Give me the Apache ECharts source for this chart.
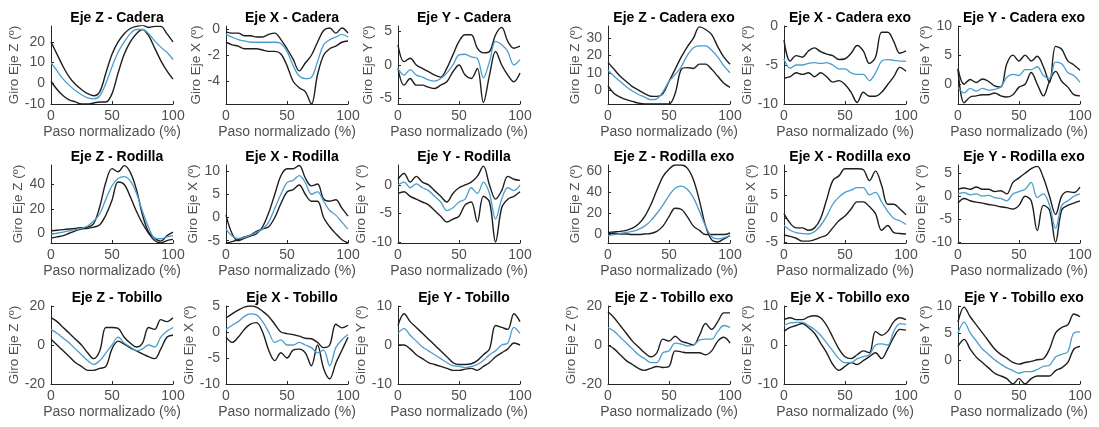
<!DOCTYPE html>
<html><head><meta charset="utf-8">
<script src="https://cdn.jsdelivr.net/npm/echarts@6/dist/echarts.min.js"></script>
<style>html,body{margin:0;padding:0;background:#fff}#c{width:1099px;height:427px}</style>
</head><body><div id="c"></div>
<script>
// x axis: Paso normalizado (%)
const X = [0,5,10,15,20,25,30,35,40,45,50,55,60,65,70,75,80,85,90,95,100];
const xTicks = [0,50,100];

// Row 1
const zCadera_sup = [20,14,8,3,-0.5,-3,-5,-6,-4,5,14,20,24,26.5,27.5,28,27,27.5,27.5,24,20];
const zCadera_med = [10,6,2,-1,-3.5,-5.5,-7,-7.5,-6,0,8,15,20,24,26,26,24,20.5,17.5,15,11.5];
const zCadera_inf = [1,-3,-6,-8,-9,-10,-10,-9.5,-9,-9,-5,5,14,20,24,26,23,17,11,6,2];
const xCadera_sup = [-0.2,-0.3,-0.3,-0.5,-0.5,-0.6,-0.6,-0.4,-0.3,-0.8,-1.5,-2.3,-3.2,-2.6,-2.0,-1.0,-0.1,0.1,-0.3,0.1,-0.3];
const xCadera_med = [-0.4,-0.6,-0.8,-0.9,-1.0,-1.0,-1.0,-1.0,-1.0,-1.1,-1.7,-2.8,-3.6,-3.8,-3.7,-2.5,-1.2,-0.8,-0.6,-0.4,-0.6];
const xCadera_inf = [-1.0,-1.2,-1.3,-1.5,-1.5,-1.5,-1.6,-1.7,-1.7,-1.9,-2.8,-4.0,-4.5,-4.8,-5.75,-3.5,-2.0,-1.5,-1.3,-1.0,-0.9];
const yCadera_sup = [3.0,0.5,1.0,0.0,-0.5,-1.0,-1.5,-1.8,-0.5,1.5,3.5,4.5,4.5,2.5,1.8,2.0,4.5,5.6,3.5,2.5,2.8];
const yCadera_med = [-0.5,-1.5,-0.7,-1.5,-1.8,-2.2,-2.4,-2.0,-1.2,0.0,1.5,1.6,1.2,1.0,-1.9,0.5,3.5,3.0,2.0,0.0,0.8];
const yCadera_inf = [-0.5,-3.0,-2.0,-3.0,-3.0,-3.3,-3.5,-3.0,-2.5,-1.0,0.0,-1.5,-2.0,-0.5,-5.6,-1.5,2.0,0.0,-1.5,-2.5,-1.2];
const zCaderaExo_sup = [16,12,8,5,2,0,-2,-3.5,-3.6,-2,5,12,19,25,30,36.5,35,32,25,19,15];
const zCaderaExo_med = [11.5,8,5,2,-0.5,-2.5,-4,-5.5,-5,-1,5,9,13.5,20,24.5,25.5,25.5,23,19,14,10];
const zCaderaExo_inf = [2.4,-2,-4,-5.5,-6.5,-7.5,-8,-8,-8,-8,-8,-2,12,13,12.5,15,15,12,8,4,1.6];
const xCaderaExo_sup = [-1.8,-4.5,-3.8,-4.0,-3.2,-2.8,-3.3,-3.6,-3.8,-4.3,-4.2,-3.5,-2.5,-3.2,-4.8,-4.0,-0.8,-0.8,-2.0,-3.5,-3.2];
const xCaderaExo_med = [-4.2,-5.4,-5.0,-5.0,-4.8,-4.7,-4.8,-4.7,-5.0,-5.5,-5.5,-6.0,-6.2,-6.2,-7.0,-6.0,-4.5,-4.3,-4.4,-4.5,-4.5];
const xCaderaExo_inf = [-6.7,-6.5,-6.0,-6.2,-6.0,-6.5,-6.0,-6.5,-7.2,-7.0,-7.5,-8.5,-9.8,-8.5,-9.0,-9.0,-8.5,-7.5,-6.5,-5.3,-5.8];
const yCaderaExo_sup = [2.7,0.0,0.8,0.3,0.9,0.5,-0.3,-0.5,3.5,5.0,4.0,5.0,4.0,4.8,3.0,0.3,6.5,6.0,4.0,3.3,2.4];
const yCaderaExo_med = [-0.5,-1.5,-0.7,-1.2,-0.7,-1.0,-0.9,-0.5,1.2,1.7,1.5,2.5,2.5,3.0,1.5,1.0,3.8,3.5,2.0,1.5,0.3];
const yCaderaExo_inf = [2.5,-3.2,-2.2,-2.0,-1.8,-1.8,-1.5,-2.0,-2.2,-1.8,-0.5,0.0,2.0,0.0,-2.0,0.5,2.2,0.5,-0.5,-1.8,-2.0];

// Row 2
const zRodilla_sup = [2,2.5,3,3.5,4,4.5,5,8,22,42,53,50.5,55.5,50,36,15,1,-4,-6.5,-2,1];
const zRodilla_med = [-1,0,1,2,3,4,6,10,16,28,39,45,46.5,43,33,18,5,-4,-4.5,-3,-2];
const zRodilla_inf = [-4,-3,-2,0,2,3.5,4,5,7,15,27,42,40,30,18,8,0,-6,-8,-6,-5];
const xRodilla_sup = [0.5,-3.5,-5.0,-4.5,-4.0,-3.5,-2,1,5,9,10.5,10.5,11.2,8.5,6.8,7.2,4.0,3.5,3.8,2,0.3];
const xRodilla_med = [-2.5,-4,-4.5,-4.3,-3.8,-3.2,-2.5,-1,2,5,7.5,8,9,7.5,5,5.5,3.5,1.5,0.5,-1,-2.5];
const xRodilla_inf = [-5.5,-5.2,-4.8,-4.2,-3.8,-3.0,-2.5,-2.0,0,3,5.5,6,7,5,3.5,3.5,0,-2,-3.5,-4.8,-5.5];
const yRodilla_sup = [1,2,0.5,1.5,0.5,0,-1,-2,-3,-1.5,-0.5,0,0.5,1.5,3.3,0,-2.5,-1,1.5,1,0.8];
const yRodilla_med = [0,0.5,-0.5,0.2,-0.5,-1,-2,-3,-4.5,-4,-3,-2.5,-0.5,-1.5,0.5,-1.5,-6,-2.5,-0.5,-1,0];
const yRodilla_inf = [-1.5,-1.2,-2,-2.5,-3,-3.5,-4.5,-5.5,-6.5,-6,-5.5,-3.5,-3,-6.5,-2,-3,-10,-4,-2.5,-2,-1.2];
const zRodillaExo_sup = [2,2.5,3,4,6,10,17,28,42,55,62,66,66,63,52,32,8,-5,-7,-4,-1];
const zRodillaExo_med = [-1,0,1,2,3,5,8,13,20,28,37,44,46,43,35,22,8,-2,-4,-3,-1];
const zRodillaExo_inf = [1,1,0.5,0.5,0,0,0.5,1,3,8,17,25,24,17,8,4,0,0,0,0,1.5];
const xRodillaExo_sup = [1,-1,-2,-2,-2.5,-2,0,4,8,9,10.5,10.5,10.5,10.3,8,10,7,3,3,2,0.8];
const xRodillaExo_med = [-1.5,-2.5,-3,-3.2,-3.3,-2.8,-1.5,0.5,3,4.5,5.5,6,6.5,6.5,5,5.5,3.5,1.5,0,-0.5,-1.3];
const xRodillaExo_inf = [-3.5,-3.8,-4.2,-4.8,-4.8,-4.5,-4,-3.5,-2,-0.5,0.5,2,3.5,3.5,2.5,1,-2.5,-1.5,-3,-3.2,-3.3];
const yRodillaExo_sup = [1.5,1.8,1.5,2,1.5,1.5,1,1.2,0.5,3,4,5,6,6.5,4,0,-4,0,1,0.8,2];
const yRodillaExo_med = [0.5,0.8,0.3,0.5,0,0.2,-0.3,-0.5,-1,0.5,1,1.5,3,-0.3,0.5,-2,-7,-2,-1,0,0.5];
const yRodillaExo_inf = [-1.5,-0.5,-1,-1.3,-1.5,-1.8,-2,-2.3,-2.5,-2.8,-2,0,-1,-7.5,-2,-3,-10,-3,-2,-1.5,-1];

// Row 3
const zTobillo_sup = [14,12,9,6,3,0,-4,-7,-3,9,9,8.5,4,1,-1,1,9,8,13,12,14];
const zTobillo_med = [8,6,3.5,1,-2,-5,-8,-10,-8,-4,0,4,1,-1,-3,-2,0,-1,4,7,9];
const zTobillo_inf = [3,0,-3,-6,-9,-11,-13,-13,-12,-11,-2,2,0.5,-1.5,-3,-4.5,-6,-7,-2,4,5];
const xTobillo_sup = [2.7,3.5,4.2,4.8,5.0,4.8,4,3,1.5,0,-0.3,-0.5,-0.8,-1.2,-1.3,-2,-3,-2.5,1.5,0.8,1.3];
const xTobillo_med = [0.5,1.3,2,3,3.5,3.3,2,0,-2,-1.5,-2.5,-2.5,-2,-2.5,-3,-4,-3.5,-6.5,-3,-1.5,-0.5];
const xTobillo_inf = [-1,-2,-1,0.5,1.5,1.8,0,-3.5,-5.5,-4,-5,-3.5,-3.3,-4,-6.5,-2.5,-7,-9,-6,-3.5,-1];
const yTobillo_sup = [5,8,6,4.5,3,1.5,0,-1.5,-3,-4.5,-5,-5,-4.8,-4,-2.5,-1,5,4.5,4,8,6];
const yTobillo_med = [3,4.2,2.5,1,-0.5,-1.5,-2.5,-3.5,-4.5,-5.3,-5.5,-5.8,-5.5,-5,-4,-2.5,-1.5,0,0.5,4.5,3];
const yTobillo_inf = [0,0,-1,-2.5,-3.5,-4.5,-5,-5.5,-6,-6.5,-6.5,-6.2,-6,-6.5,-5.5,-4.5,-3,-2,-1,0.5,0];
const zTobilloExo_sup = [17,14,10,6,2,-1,-4,-6,-4,3,2,4.5,2,1,0,5,11,8,12,16.5,16.5];
const zTobilloExo_med = [9,7,4,1,-2,-5,-7,-9,-9,-4,-3,1,0.5,-0.5,0,2.5,3,3,7,10,9];
const zTobilloExo_inf = [0,-2,-5,-8,-10,-12,-13,-12,-11,-11.5,-11,-3,-3.5,-4,-4,-4,-5,-3,2,4,1];
const xTobilloExo_sup = [6.5,7,6.5,6.5,7.2,7.5,7,5,2,-1,-3,-3.5,-2.5,-1.5,-2,3.5,2.5,3.5,6,7,6.5];
const xTobilloExo_med = [5,5.7,5.8,5.8,5,4,2.5,0.5,-1.5,-3.5,-4.5,-4.5,-3.5,-3,-2.5,0,0.3,0,3.5,5.5,5.3];
const xTobilloExo_inf = [3.5,4.5,5,5.5,4.5,3,0.5,-2,-5,-6.5,-5.5,-4.5,-5,-4,-3,-2,-3.5,-1,2,4,3.8];
const yTobilloExo_sup = [7,9.8,8,6.5,5,3.5,2,1,0.3,-0.5,-0.8,-0.5,-0.3,0,0.2,2,5,6,6.5,8.5,8];
const yTobilloExo_med = [5,7,5,3.5,2,1,0,-0.8,-1.5,-2,-2.5,-2.2,-2.2,-1.8,-1.2,-1,0.5,1,1.5,5,5.2];
const yTobilloExo_inf = [2.5,3.8,2,0.5,-0.5,-1.5,-2.5,-3,-3.5,-4.5,-3.5,-4.5,-3.5,-3,-3,-3,-2,-1.5,-0.5,2,2.5];

// Titles, y-axis names, ranges and tick labels
const titles = ['Eje Z - Cadera','Eje X - Cadera','Eje Y - Cadera','Eje Z - Cadera exo','Eje X - Cadera exo','Eje Y - Cadera exo',
  'Eje Z - Rodilla','Eje X - Rodilla','Eje Y - Rodilla','Eje Z - Rodilla exo','Eje X - Rodilla exo','Eje Y - Rodilla exo',
  'Eje Z - Tobillo','Eje X - Tobillo','Eje Y - Tobillo','Eje Z - Tobillo exo','Eje X - Tobillo exo','Eje Y - Tobillo exo'];
const yNames = ['Giro Eje Z (º)','Giro Eje X (º)','Giro Eje Y (º)'];
const yMin = [-10,-5.75,-5.8,-8,-10,-3.4, -8,-5.5,-10.2,-8,-5.2,-10.2, -20,-10,-10,-20,-10,-4.5];
const yMax = [27.7,0.25,5.8,37,0,10, 56,11.3,3.5,66,11.3,6.8, 20,5,10,20,10,10];
const yTicks = [[-10,0,10,20],[-4,-2,0],[-5,0,5],[0,10,20,30],[-10,-5,0],[0,5,10],
  [0,20,40],[-5,0,5,10],[-10,-5,0],[0,20,40,60],[-5,0,5,10],[-10,-5,0,5],
  [-20,0,20],[-10,-5,0,5],[-10,0,10],[-20,0,20],[-10,0,10],[0,5,10]];
const supAll = [zCadera_sup,xCadera_sup,yCadera_sup,zCaderaExo_sup,xCaderaExo_sup,yCaderaExo_sup,
  zRodilla_sup,xRodilla_sup,yRodilla_sup,zRodillaExo_sup,xRodillaExo_sup,yRodillaExo_sup,
  zTobillo_sup,xTobillo_sup,yTobillo_sup,zTobilloExo_sup,xTobilloExo_sup,yTobilloExo_sup];
const medAll = [zCadera_med,xCadera_med,yCadera_med,zCaderaExo_med,xCaderaExo_med,yCaderaExo_med,
  zRodilla_med,xRodilla_med,yRodilla_med,zRodillaExo_med,xRodillaExo_med,yRodillaExo_med,
  zTobillo_med,xTobillo_med,yTobillo_med,zTobilloExo_med,xTobilloExo_med,yTobilloExo_med];
const infAll = [zCadera_inf,xCadera_inf,yCadera_inf,zCaderaExo_inf,xCaderaExo_inf,yCaderaExo_inf,
  zRodilla_inf,xRodilla_inf,yRodilla_inf,zRodillaExo_inf,xRodillaExo_inf,yRodillaExo_inf,
  zTobillo_inf,xTobillo_inf,yTobillo_inf,zTobilloExo_inf,xTobilloExo_inf,yTobilloExo_inf];

const colLeft = [51,226,398,608,784,958];
const rowTop = [26,165,306];
const W = 122, H = 78;
const FONT = 'Liberation Sans, Arial, sans-serif';
const AX = '#262626';
const TXT = '#505050';

const chart = echarts.init(document.getElementById('c'), null, {renderer:'canvas'});
const grid=[], xAxis=[], yAxis=[], series=[], title=[];
const pairs = arr => X.map((x,i)=>[x,arr[i]]);
for (let i=0;i<18;i++){
  const r = Math.floor(i/6), c = i%6;
  grid.push({left:colLeft[c], top:rowTop[r], width:W, height:H, containLabel:false});
  title.push({text:titles[i], left:colLeft[c]+W/2, top:rowTop[r]-20, textAlign:'center',
    textStyle:{fontFamily:FONT,fontSize:14,fontWeight:'bold',color:'#000'}});
  xAxis.push({type:'value', gridIndex:i, min:0, max:100,
    name:'Paso normalizado (%)', nameLocation:'middle', nameGap:21,
    nameTextStyle:{fontFamily:FONT,fontSize:14,color:TXT},
    axisLine:{onZero:false,lineStyle:{color:AX,width:1}},
    axisTick:{inside:true,length:3,customValues:xTicks,lineStyle:{color:AX}},
    axisLabel:{customValues:xTicks,fontFamily:FONT,fontSize:14,color:TXT,margin:5},
    splitLine:{show:false}});
  yAxis.push({type:'value', gridIndex:i, min:yMin[i], max:yMax[i],
    name:yNames[c%3], nameLocation:'middle', nameGap:14, nameRotate:90,
    nameTextStyle:{fontFamily:FONT,fontSize:13.5,color:TXT},
    axisLine:{show:true,onZero:false,lineStyle:{color:AX,width:1}},
    axisTick:{show:true,inside:true,length:3,customValues:yTicks[i],lineStyle:{color:AX}},
    axisLabel:{customValues:yTicks[i],fontFamily:FONT,fontSize:14,color:TXT,margin:6},
    splitLine:{show:false}});
  const common = {type:'line', xAxisIndex:i, yAxisIndex:i, showSymbol:false, smooth:0.35, silent:true, animation:false, clip:true};
  series.push(Object.assign({data:pairs(supAll[i]), lineStyle:{color:'#1e1e1e',width:1.4}}, common));
  series.push(Object.assign({data:pairs(infAll[i]), lineStyle:{color:'#1e1e1e',width:1.4}}, common));
  series.push(Object.assign({data:pairs(medAll[i]), lineStyle:{color:'#4a9dcc',width:1.3}}, common));
}
chart.setOption({backgroundColor:'#fff', animation:false, title, grid, xAxis, yAxis, series});
</script></body></html>
